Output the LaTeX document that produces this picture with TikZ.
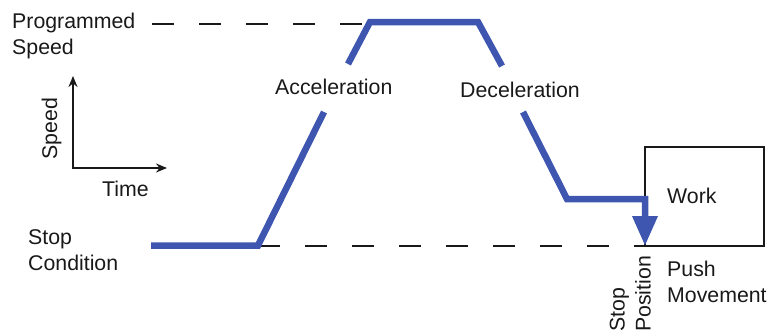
\documentclass[tikz,border=0pt]{standalone}
\usepackage{fontspec}
\setmainfont{Liberation Sans}
\usetikzlibrary{arrows.meta}
\definecolor{profblue}{RGB}{62,86,176}
\definecolor{inkgray}{RGB}{25,25,25}
\begin{document}
\begin{tikzpicture}[x=1pt,y=-1pt,
  lbl/.style={font=\fontsize{21.3}{26}\selectfont, text=inkgray, inner sep=0pt, align=left},
  prof/.style={draw=profblue, line width=6.5pt},
  guide/.style={draw=inkgray, line width=1.6pt, dash pattern=on 22pt off 25pt},
  axisline/.style={draw=inkgray, line width=1.6pt},
  ]
\useasboundingbox (0,0) rectangle (774,335);
% guide lines
\coordinate (g0) at (152,24);
\coordinate (g1) at (370,24);
\coordinate (h0) at (258,246);
\coordinate (h1) at (645,246);
\draw[guide] (g0) -- (g1);
\draw[guide] (h0) -- (h1);
% work box
\coordinate (b0) at (645,147);
\coordinate (b1) at (764,246);
\draw[axisline] (b0) rectangle (b1);
% speed profile
\coordinate (s0) at (151,245.5);
\coordinate (a0) at (258,245.5);
\coordinate (a1) at (324,112);
\coordinate (a2) at (348,64);
\coordinate (t0) at (370,22);
\coordinate (t1) at (478,22);
\coordinate (d1) at (502,66);
\coordinate (d2) at (523,112);
\coordinate (d3) at (567,199);
\coordinate (w0) at (645,199);
\coordinate (w1) at (645,246);
\draw[prof] (s0) -- (a0) -- (a1);
\draw[prof] (a2) -- (t0) -- (t1) -- (d1);
\draw[prof, -{Triangle[width=24pt,length=30pt]}] (d2) -- (d3) -- (w0) -- (w1);
% axes
\coordinate (o) at (73,168);
\coordinate (ya) at (73,76);
\coordinate (xa) at (167,168);
\draw[axisline, {Stealth[length=11pt,width=9pt]}-{Stealth[length=11pt,width=9pt]}] (ya) -- (o) -- (xa);
% labels
\node[lbl, anchor=base west] (prog) at (12,54) {Programmed\\Speed};
\node[lbl, anchor=base west] (acc) at (275,94) {Acceleration};
\node[lbl, anchor=base west] (dec) at (460,97) {Deceleration};
\node[lbl, anchor=base west] (stopc) at (28,270) {Stop\\Condition};
\node[lbl, anchor=base west] (work) at (667,203) {Work};
\node[lbl, anchor=base west] (push) at (667,302) {Push\\Movement};
\node[lbl, anchor=base west] (time) at (102,196) {Time};
\node[lbl, anchor=base, rotate=90] (spd) at (57,128.5) {Speed};
\node[lbl, anchor=south west, rotate=90] (stopp) at (651,332) {Stop\\Position};
\end{tikzpicture}
\end{document}
